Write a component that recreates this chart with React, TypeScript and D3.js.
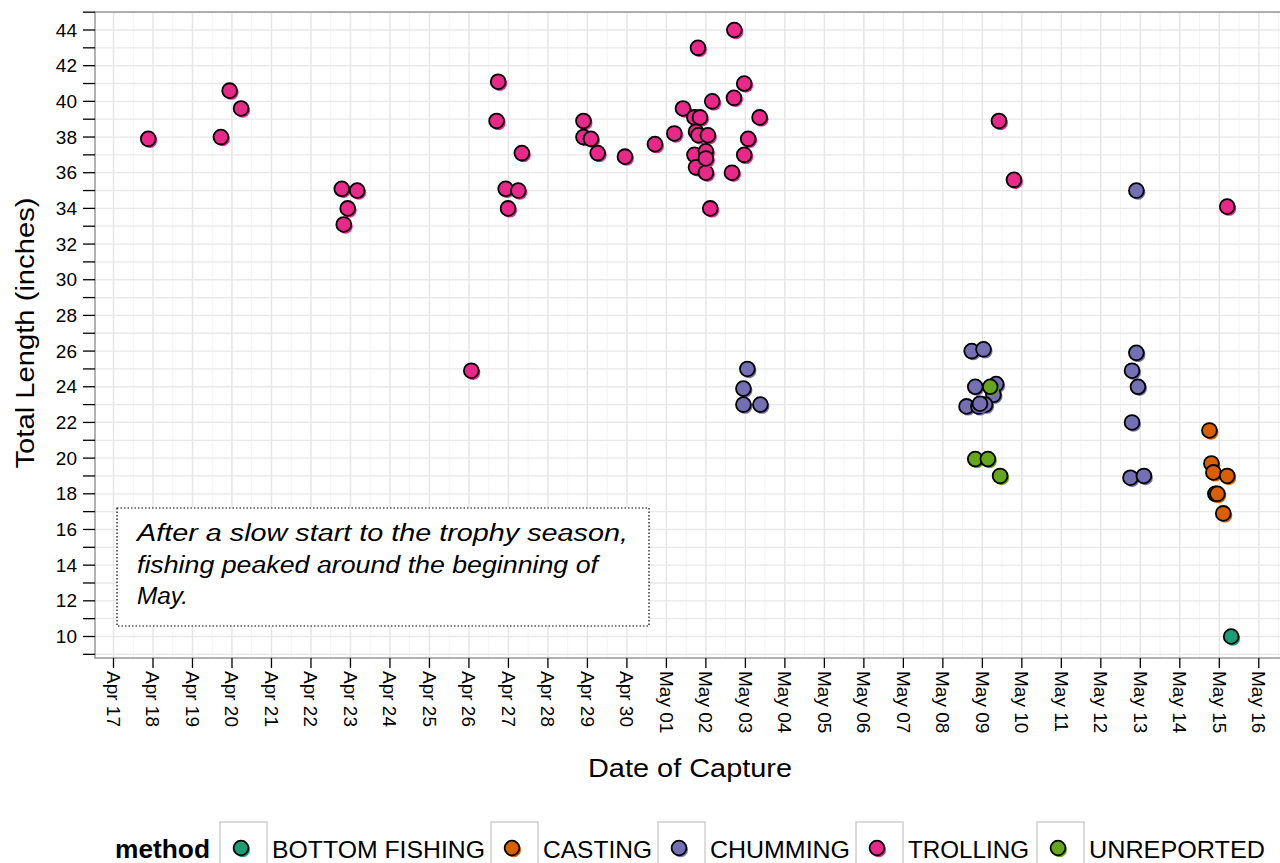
import * as d3 from "d3";

// method names + Dark2 colours, legend order
const methods = ["BOTTOM FISHING", "CASTING", "CHUMMING", "TROLLING", "UNREPORTED"];
const methodColors = ["#1b9e77", "#d95f02", "#7570b3", "#e7298a", "#66a61e"];

// capture day (days after Apr 17, jittered) and total length (inches)
const bottomDay = [28.3];
const bottomLen = [10.0];

const castingDay = [27.75, 27.8, 27.85, 28.2, 27.9, 27.95, 28.1];
const castingLen = [21.55, 19.7, 19.2, 19.0, 18.0, 18.0, 16.9];

const chummingDay = [16.05, 15.95, 15.95, 16.38, 21.73, 22.03, 21.82, 22.35, 22.28, 21.6, 21.9, 22.07, 21.94,
  25.9, 25.9, 25.79, 25.94, 25.79, 25.75, 26.09];
const chummingLen = [25.0, 23.9, 23.0, 23.0, 26.0, 26.1, 24.0, 24.15, 23.55, 22.9, 22.9, 23.0, 23.05,
  35.0, 25.9, 24.9, 24.0, 22.0, 18.9, 19.0];

const trollingDay = [0.88, 2.72, 2.94, 3.23, 5.78, 6.17, 5.93, 5.83, 9.06, 9.74, 9.7, 10.34, 9.93, 10.25, 9.99,
  11.9, 11.9, 12.09, 12.26, 12.95, 13.71, 14.2, 14.42, 14.71, 14.85, 14.75, 14.81, 15.05, 14.71, 15.0,
  14.75, 15.0, 15.0, 15.11, 15.16, 14.8, 15.72, 15.71, 15.97, 16.36, 16.07, 15.97, 15.66, 22.42, 22.8, 28.2];
const trollingLen = [37.9, 38.0, 40.6, 39.6, 35.1, 35.0, 34.0, 33.1, 24.9, 41.1, 38.9, 37.1, 35.1, 35.0, 34.0,
  38.9, 38.0, 37.9, 37.1, 36.9, 37.6, 38.2, 39.6, 39.1, 39.1, 38.3, 38.1, 38.1, 37.0, 37.2,
  36.3, 36.0, 36.8, 34.0, 40.0, 43.0, 44.0, 40.2, 41.0, 39.1, 37.9, 37.0, 36.0, 38.9, 35.6, 34.1];

const unreportedDay = [22.2, 21.82, 22.14, 22.45];
const unreportedLen = [24.0, 19.95, 19.95, 19.0];

const yTickLabels = [10, 12, 14, 16, 18, 20, 22, 24, 26, 28, 30, 32, 34, 36, 38, 40, 42, 44];

const noteLines = ["After a slow start to the trophy season,", "fishing peaked around the beginning of", "May."];

const start = new Date(2017, 3, 17);
const toDate = (d: number) => new Date(start.getTime() + d * 864e5);

const App = () => {
  const W = 1280, H = 863;
  const panel = { left: 95, top: 12, right: 1282, bottom: 658 };
  const font = "'Liberation Sans', Arial, sans-serif";

  const x = d3.scaleTime()
    .domain([start, new Date(2017, 4, 16)])
    .range([113.5, 1258.8]);
  const y = d3.scaleLinear().domain([10, 44]).range([636.5, 30]);

  const days = d3.timeDay.range(new Date(2017, 3, 16), new Date(2017, 4, 18));
  const halfDays = d3.timeHour.every(12)!.range(new Date(2017, 3, 16), new Date(2017, 4, 18));
  const yInts = d3.range(9, 46);
  const fmt = d3.timeFormat("%b %d");

  const groups = [
    { day: bottomDay, len: bottomLen },
    { day: castingDay, len: castingLen },
    { day: chummingDay, len: chummingLen },
    { day: trollingDay, len: trollingLen },
    { day: unreportedDay, len: unreportedLen },
  ];
  // draw order: trolling first, then the rest so the small groups sit on top
  const order = [3, 2, 4, 1, 0];

  const inX = (v: number) => v >= panel.left && v <= panel.right;
  const inY = (v: number) => v >= panel.top && v <= panel.bottom;

  const Point = ({ cx, cy, color }: { cx: number; cy: number; color: string }) => (
    <g>
      <circle cx={cx + 1.6} cy={cy + 1.8} r={7.4} fill={color} />
      <circle cx={cx} cy={cy} r={7.4} fill={color} stroke="#000" strokeWidth={1.8} />
    </g>
  );

  // legend layout
  const legKeys = [220, 491, 658, 856, 1037];
  const legWidths = [213, 109, 140, 121, 176];
  const noteWidths = [491, 461, 51];

  return (
    <svg width={W} height={H} style={{ position: "absolute", left: 0, top: 0, display: "block" }} fontFamily={font}>
      <rect width={W} height={H} fill="#fff" />
      <defs>
        <clipPath id="panelClip">
          <rect x={panel.left} y={panel.top} width={panel.right - panel.left} height={panel.bottom - panel.top} />
        </clipPath>
      </defs>

      {/* grid */}
      <g clipPath="url(#panelClip)">
        {halfDays.filter(d => d.getHours() === 12).map((d, i) => (
          <line key={"hv" + i} x1={x(d)} x2={x(d)} y1={panel.top} y2={panel.bottom} stroke="#f3f3f3" strokeWidth={1} />
        ))}
        {yInts.map(v => (
          <line key={"h" + v} x1={panel.left} x2={panel.right} y1={y(v)} y2={y(v)} stroke="#e8e8e8" strokeWidth={1.3} />
        ))}
        {days.map((d, i) => (
          <line key={"v" + i} x1={x(d)} x2={x(d)} y1={panel.top} y2={panel.bottom} stroke="#e6e6e6" strokeWidth={1.5} />
        ))}
      </g>

      {/* panel border */}
      <rect x={panel.left} y={panel.top} width={panel.right - panel.left} height={panel.bottom - panel.top}
        fill="none" stroke="#7f7f7f" strokeWidth={1.2} />

      {/* y axis */}
      {yInts.filter(v => inY(y(v))).map(v => (
        <line key={"yt" + v} x1={83} x2={panel.left} y1={y(v)} y2={y(v)} stroke="#000" strokeWidth={1.3} />
      ))}
      {yTickLabels.map(v => (
        <text key={"yl" + v} x={77} y={y(v)} dy="0.35em" textAnchor="end" fontSize={19} fill="#000">{v}</text>
      ))}
      <text transform={`translate(34, 333) rotate(-90)`} textAnchor="middle"
        fontSize={26} fill="#000" textLength={271} lengthAdjust="spacingAndGlyphs">Total Length (inches)</text>

      {/* x axis */}
      {days.filter(d => inX(x(d))).map((d, i) => (
        <g key={"xt" + i}>
          <line x1={x(d)} x2={x(d)} y1={panel.bottom} y2={668} stroke="#000" strokeWidth={1.3} />
          <text transform={`translate(${x(d)}, 671) rotate(90)`} dy="0.35em" fontSize={19} fill="#000">{fmt(d)}</text>
        </g>
      ))}
      <text x={690} y={777} textAnchor="middle" fontSize={26} fill="#000" textLength={204}
        lengthAdjust="spacingAndGlyphs">Date of Capture</text>

      {/* annotation */}
      <rect x={117} y={508} width={532} height={118} fill="#fff" stroke="#000" strokeWidth={1.2} strokeDasharray="1.5 2" />
      {noteLines.map((t, i) => (
        <text key={"n" + i} x={137} y={541 + i * 31.5} fontSize={23} fontStyle="italic" fill="#000"
          textLength={noteWidths[i]} lengthAdjust="spacingAndGlyphs">{t}</text>
      ))}

      {/* points */}
      <g clipPath="url(#panelClip)">
        {order.map(gi => groups[gi].day.map((d, j) => (
          <Point key={gi + "-" + j} cx={x(toDate(d))} cy={y(groups[gi].len[j])} color={methodColors[gi]} />
        )))}
      </g>

      {/* legend */}
      <text x={115} y={858} fontSize={25} fontWeight="bold" fill="#000" textLength={95}
        lengthAdjust="spacingAndGlyphs">method</text>
      {methods.map((m, i) => (
        <g key={"lg" + i}>
          <rect x={legKeys[i]} y={822} width={47} height={50} fill="#fff" stroke="#d0d0d0" strokeWidth={1.5} />
          <Point cx={legKeys[i] + 21} cy={848} color={methodColors[i]} />
          <text x={legKeys[i] + 52} y={858} fontSize={24} fill="#000" textLength={legWidths[i]}
            lengthAdjust="spacingAndGlyphs">{m}</text>
        </g>
      ))}
    </svg>
  );
};

export default App;
